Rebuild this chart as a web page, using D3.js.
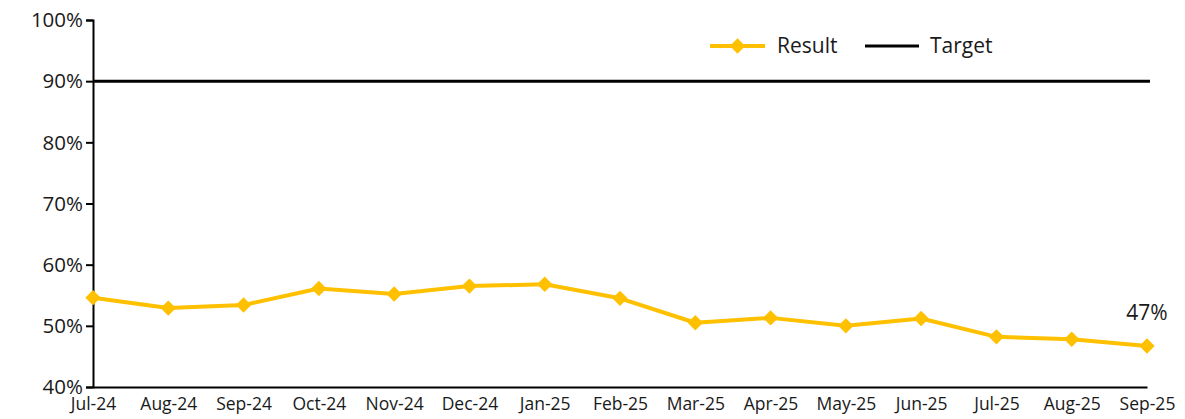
<!DOCTYPE html>
<html>
<head>
<meta charset="utf-8">
<script src="https://cdn.jsdelivr.net/npm/d3@7"></script>
<style>
  body { margin: 0; background: #fff; }
  text { font-family: "Open Sans", sans-serif; fill: #1a1a1a; }
</style>
</head>
<body>
<div id="chart"></div>
<script>
    const months = ['Jul-24','Aug-24','Sep-24','Oct-24','Nov-24','Dec-24','Jan-25','Feb-25','Mar-25','Apr-25','May-25','Jun-25','Jul-25','Aug-25','Sep-25'];
    const result = [54.6, 52.9, 53.4, 56.1, 55.2, 56.5, 56.8, 54.5, 50.5, 51.3, 50.0, 51.2, 48.2, 47.8, 46.7];
    const target = 90;
    const yTicks = [40, 50, 60, 70, 80, 90, 100];

    const width = 1185, height = 419;
    const margin = {top: 20, right: 38, bottom: 32, left: 93};
    const gold = '#FFC000';

    const svg = d3.select('#chart').append('svg')
      .attr('width', width)
      .attr('height', height);

    const x = d3.scalePoint()
      .domain(months)
      .range([margin.left, width - margin.right]);

    const y = d3.scaleLinear()
      .domain([40, 100])
      .range([height - margin.bottom, margin.top]);

    // y axis
    const yAxis = svg.append('g')
      .attr('transform', `translate(${margin.left},0)`)
      .call(d3.axisLeft(y).tickValues(yTicks).tickSize(7).tickPadding(3).tickFormat(d => d + '%'));
    yAxis.select('.domain').attr('stroke', '#000').attr('stroke-width', 2);
    yAxis.selectAll('.tick line').attr('stroke', '#000').attr('stroke-width', 2);
    yAxis.selectAll('text').style('font-size', '20.5px').attr('fill', '#1a1a1a').attr('dy', '0.33em');

    // x axis
    const xAxis = svg.append('g')
      .attr('transform', `translate(0,${height - margin.bottom})`)
      .call(d3.axisBottom(x).tickSize(0).tickPadding(11).tickSizeOuter(0));
    xAxis.select('.domain').attr('stroke', '#000').attr('stroke-width', 2);
    xAxis.selectAll('text').style('font-size', '17.5px').attr('fill', '#1a1a1a');

    // target line
    svg.append('line')
      .attr('x1', margin.left)
      .attr('x2', width - margin.right + 3)
      .attr('y1', y(target))
      .attr('y2', y(target))
      .attr('stroke', '#000')
      .attr('stroke-width', 3);

    // result line
    const line = d3.line()
      .x((d, i) => x(months[i]))
      .y(d => y(d));

    svg.append('path')
      .datum(result)
      .attr('fill', 'none')
      .attr('stroke', gold)
      .attr('stroke-width', 4)
      .attr('stroke-linejoin', 'round')
      .attr('d', line);

    const diamond = d3.symbol().type(d3.symbolDiamond2).size(150);

    svg.append('g').selectAll('path')
      .data(result)
      .join('path')
      .attr('transform', (d, i) => `translate(${x(months[i])},${y(d)})`)
      .attr('d', diamond)
      .attr('fill', gold);

    // last value label
    const last = result.length - 1;
    svg.append('text')
      .attr('x', x(months[last]))
      .attr('y', y(result[last]) - 26)
      .attr('text-anchor', 'middle')
      .style('font-size', '21px')
      .text(Math.round(result[last]) + '%');

    // legend
    const legend = svg.append('g').attr('transform', 'translate(710,46)');
    legend.append('line')
      .attr('x1', 0).attr('x2', 55)
      .attr('stroke', gold).attr('stroke-width', 4);
    legend.append('path')
      .attr('transform', 'translate(27.5,0)')
      .attr('d', diamond)
      .attr('fill', gold);
    legend.append('text')
      .attr('x', 67).attr('y', 7)
      .style('font-size', '21px')
      .text('Result');
    legend.append('line')
      .attr('x1', 155).attr('x2', 209)
      .attr('stroke', '#000').attr('stroke-width', 3);
    legend.append('text')
      .attr('x', 220).attr('y', 7)
      .style('font-size', '21px')
      .text('Target');
</script>
</body>
</html>
